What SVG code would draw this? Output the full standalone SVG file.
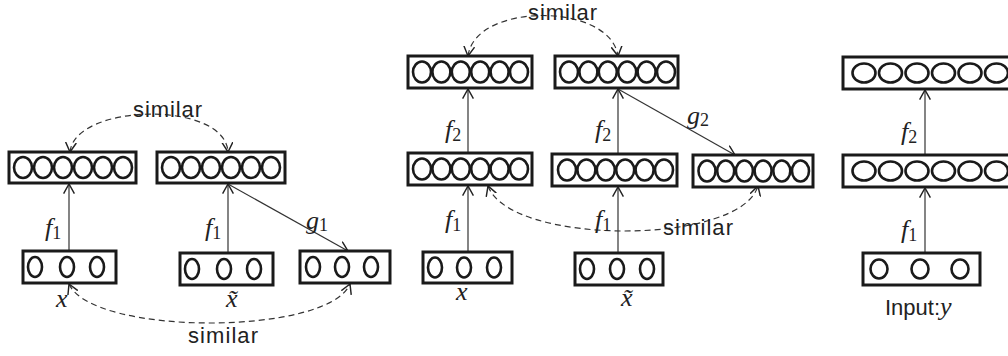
<svg xmlns="http://www.w3.org/2000/svg" width="1008" height="356" viewBox="0 0 1008 356">
<defs>
<marker id="ah" markerUnits="userSpaceOnUse" markerWidth="12" markerHeight="12" refX="8" refY="5" orient="auto-start-reverse" viewBox="0 0 10 10">
<path d="M0,0.5 L8,5 L0,9.5" fill="none" stroke="#222" stroke-width="1.2"/>
</marker>
</defs>
<style>
.box{fill:#fff;stroke:#1a1a1a;stroke-width:3}
.c{fill:none;stroke:#1a1a1a;stroke-width:2.6}
.ln{fill:none;stroke:#333;stroke-width:1.2;marker-end:url(#ah)}
.dl{fill:none;stroke:#333;stroke-width:1.2;stroke-dasharray:6 4;marker-start:url(#ah);marker-end:url(#ah)}
.t{font-family:"Liberation Sans",Arial,sans-serif;font-size:22px;fill:#222}
.m{font-family:"Liberation Serif","Times New Roman",serif;font-style:italic;font-size:26px;fill:#222}
.s{font-family:"Liberation Serif","Times New Roman",serif;font-style:normal;font-size:18px}
</style>

<g id="connectors">
<line class="ln" x1="69" y1="251" x2="69" y2="184"/>
<line class="ln" x1="228" y1="253" x2="228" y2="184"/>
<line class="ln" x1="228" y1="184" x2="348" y2="251"/>
<path class="dl" d="M70,152 C75,103 225,100 228,152"/>
<path class="dl" d="M69,284 C92,336 328,336 350,284"/>
<line class="ln" x1="468" y1="252" x2="468" y2="186"/>
<line class="ln" x1="468" y1="153" x2="468" y2="89"/>
<line class="ln" x1="618" y1="253" x2="618" y2="187"/>
<line class="ln" x1="618" y1="154" x2="618" y2="89"/>
<line class="ln" x1="618" y1="89" x2="735" y2="155"/>
<path class="dl" d="M468,56 C475,2 610,2 618,56"/>
<path class="dl" d="M488,186 C510,246 740,246 758,186"/>
<line class="ln" x1="925" y1="253" x2="925" y2="188"/>
<line class="ln" x1="925" y1="155" x2="925" y2="90"/>
</g>

<g id="p1-top-left">
<rect class="box" x="9" y="152" width="127" height="31"/>
<ellipse class="c" cx="23" cy="167.5" rx="9" ry="10.5"/><ellipse class="c" cx="43" cy="167.5" rx="9" ry="10.5"/><ellipse class="c" cx="63" cy="167.5" rx="9" ry="10.5"/><ellipse class="c" cx="83" cy="167.5" rx="9" ry="10.5"/><ellipse class="c" cx="103" cy="167.5" rx="9" ry="10.5"/><ellipse class="c" cx="123" cy="167.5" rx="9" ry="10.5"/>
</g>
<g id="p1-top-right">
<rect class="box" x="157" y="152" width="128" height="31"/>
<ellipse class="c" cx="171" cy="167.5" rx="9" ry="10.5"/><ellipse class="c" cx="191" cy="167.5" rx="9" ry="10.5"/><ellipse class="c" cx="211" cy="167.5" rx="9" ry="10.5"/><ellipse class="c" cx="231" cy="167.5" rx="9" ry="10.5"/><ellipse class="c" cx="251" cy="167.5" rx="9" ry="10.5"/><ellipse class="c" cx="271" cy="167.5" rx="9" ry="10.5"/>
</g>
<g id="p1-x">
<rect class="box" x="23" y="251" width="93" height="32"/>
<ellipse class="c" cx="35" cy="267" rx="7" ry="10"/><ellipse class="c" cx="67" cy="267" rx="7" ry="10"/><ellipse class="c" cx="97" cy="267" rx="7" ry="10"/>
</g>
<g id="p1-xt">
<rect class="box" x="180" y="253" width="93" height="32"/>
<ellipse class="c" cx="192" cy="269" rx="7" ry="10"/><ellipse class="c" cx="224" cy="269" rx="7" ry="10"/><ellipse class="c" cx="254" cy="269" rx="7" ry="10"/>
</g>
<g id="p1-g">
<rect class="box" x="300" y="251" width="90" height="32"/>
<ellipse class="c" cx="313" cy="267" rx="7" ry="10"/><ellipse class="c" cx="342" cy="267" rx="7" ry="10"/><ellipse class="c" cx="371" cy="267" rx="7" ry="10"/>
</g>

<g id="p2-top-left">
<rect class="box" x="408" y="56" width="124" height="32"/>
<ellipse class="c" cx="422" cy="72" rx="9" ry="10.5"/><ellipse class="c" cx="441.4" cy="72" rx="9" ry="10.5"/><ellipse class="c" cx="460.8" cy="72" rx="9" ry="10.5"/><ellipse class="c" cx="480.2" cy="72" rx="9" ry="10.5"/><ellipse class="c" cx="499.6" cy="72" rx="9" ry="10.5"/><ellipse class="c" cx="519" cy="72" rx="9" ry="10.5"/>
</g>
<g id="p2-top-right">
<rect class="box" x="555" y="56" width="123" height="32"/>
<ellipse class="c" cx="569" cy="72" rx="9" ry="10.5"/><ellipse class="c" cx="588.4" cy="72" rx="9" ry="10.5"/><ellipse class="c" cx="607.8" cy="72" rx="9" ry="10.5"/><ellipse class="c" cx="627.2" cy="72" rx="9" ry="10.5"/><ellipse class="c" cx="646.6" cy="72" rx="9" ry="10.5"/><ellipse class="c" cx="666" cy="72" rx="9" ry="10.5"/>
</g>
<g id="p2-mid-left">
<rect class="box" x="408" y="153" width="124" height="32"/>
<ellipse class="c" cx="422" cy="169" rx="9" ry="10.5"/><ellipse class="c" cx="441.4" cy="169" rx="9" ry="10.5"/><ellipse class="c" cx="460.8" cy="169" rx="9" ry="10.5"/><ellipse class="c" cx="480.2" cy="169" rx="9" ry="10.5"/><ellipse class="c" cx="499.6" cy="169" rx="9" ry="10.5"/><ellipse class="c" cx="519" cy="169" rx="9" ry="10.5"/>
</g>
<g id="p2-mid-center">
<rect class="box" x="552" y="154" width="125" height="32"/>
<ellipse class="c" cx="567" cy="170" rx="9" ry="10.5"/><ellipse class="c" cx="586.4" cy="170" rx="9" ry="10.5"/><ellipse class="c" cx="605.8" cy="170" rx="9" ry="10.5"/><ellipse class="c" cx="625.2" cy="170" rx="9" ry="10.5"/><ellipse class="c" cx="644.6" cy="170" rx="9" ry="10.5"/><ellipse class="c" cx="664" cy="170" rx="9" ry="10.5"/>
</g>
<g id="p2-mid-right">
<rect class="box" x="693" y="155" width="120" height="32"/>
<ellipse class="c" cx="707" cy="171" rx="8.5" ry="10.5"/><ellipse class="c" cx="725.7" cy="171" rx="8.5" ry="10.5"/><ellipse class="c" cx="744.4" cy="171" rx="8.5" ry="10.5"/><ellipse class="c" cx="763.1" cy="171" rx="8.5" ry="10.5"/><ellipse class="c" cx="781.8" cy="171" rx="8.5" ry="10.5"/><ellipse class="c" cx="800.5" cy="171" rx="8.5" ry="10.5"/>
</g>
<g id="p2-x">
<rect class="box" x="423" y="252" width="89" height="31"/>
<ellipse class="c" cx="435" cy="267.5" rx="7" ry="10"/><ellipse class="c" cx="464" cy="267.5" rx="7" ry="10"/><ellipse class="c" cx="494" cy="267.5" rx="7" ry="10"/>
</g>
<g id="p2-xt">
<rect class="box" x="575" y="253" width="88" height="32"/>
<ellipse class="c" cx="587" cy="269" rx="7" ry="10"/><ellipse class="c" cx="617" cy="269" rx="7" ry="10"/><ellipse class="c" cx="647" cy="269" rx="7" ry="10"/>
</g>

<g id="p3-top">
<rect class="box" x="843" y="57" width="175" height="32"/>
<ellipse class="c" cx="864" cy="73" rx="11.5" ry="9.5"/><ellipse class="c" cx="890.5" cy="73" rx="11.5" ry="9.5"/><ellipse class="c" cx="917" cy="73" rx="11.5" ry="9.5"/><ellipse class="c" cx="943.5" cy="73" rx="11.5" ry="9.5"/><ellipse class="c" cx="970" cy="73" rx="11.5" ry="9.5"/><ellipse class="c" cx="996.5" cy="73" rx="11.5" ry="9.5"/>
</g>
<g id="p3-mid">
<rect class="box" x="843" y="155" width="175" height="32"/>
<ellipse class="c" cx="864" cy="171" rx="11.5" ry="9.5"/><ellipse class="c" cx="890.5" cy="171" rx="11.5" ry="9.5"/><ellipse class="c" cx="917" cy="171" rx="11.5" ry="9.5"/><ellipse class="c" cx="943.5" cy="171" rx="11.5" ry="9.5"/><ellipse class="c" cx="970" cy="171" rx="11.5" ry="9.5"/><ellipse class="c" cx="996.5" cy="171" rx="11.5" ry="9.5"/>
</g>
<g id="p3-in">
<rect class="box" x="863" y="253" width="117" height="32"/>
<ellipse class="c" cx="879" cy="269" rx="8.5" ry="9.5"/><ellipse class="c" cx="920" cy="269" rx="8.5" ry="9.5"/><ellipse class="c" cx="960" cy="269" rx="8.5" ry="9.5"/>
</g>

<g id="labels">
<text class="t" x="133" y="117" textLength="69" lengthAdjust="spacing">similar</text>
<text class="t" x="188" y="343" textLength="70" lengthAdjust="spacing">similar</text>
<text class="t" x="528" y="20" textLength="69" lengthAdjust="spacing">similar</text>
<text class="t" x="663" y="235" textLength="70" lengthAdjust="spacing">similar</text>
<text class="m" x="45" y="236">f<tspan class="s" dy="3">1</tspan></text>
<text class="m" x="205" y="236">f<tspan class="s" dy="3">1</tspan></text>
<text class="m" x="306" y="229">g<tspan class="s" dy="2">1</tspan></text>
<text class="m" x="56" y="307">x</text>
<text class="m" x="226" y="307">x̃</text>
<text class="m" x="445" y="138">f<tspan class="s" dy="3">2</tspan></text>
<text class="m" x="595" y="138">f<tspan class="s" dy="3">2</tspan></text>
<text class="m" x="687" y="124">g<tspan class="s" dy="2">2</tspan></text>
<text class="m" x="445" y="228">f<tspan class="s" dy="3">1</tspan></text>
<text class="m" x="595" y="228">f<tspan class="s" dy="3">1</tspan></text>
<text class="m" x="456" y="300">x</text>
<text class="m" x="621" y="306">x̃</text>
<text class="m" x="901" y="140">f<tspan class="s" dy="3">2</tspan></text>
<text class="m" x="901" y="238">f<tspan class="s" dy="3">1</tspan></text>
<text class="t" x="885" y="315">Input:<tspan class="m">y</tspan></text>
</g>
</svg>
